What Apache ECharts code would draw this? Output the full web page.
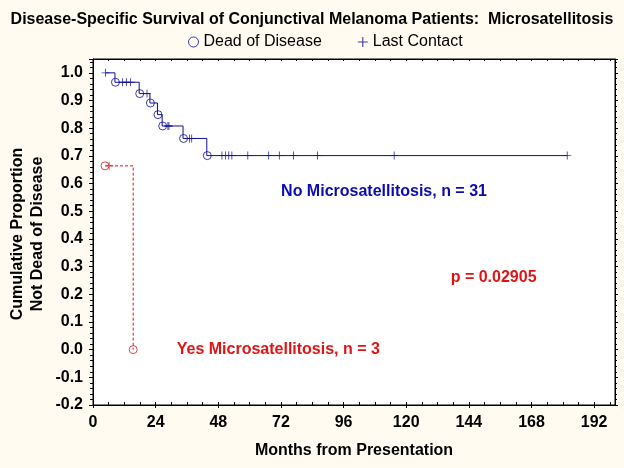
<!DOCTYPE html>
<html>
<head>
<meta charset="utf-8">
<script src="https://cdn.jsdelivr.net/npm/echarts@6/dist/echarts.min.js"></script>
<style>
html,body{margin:0;padding:0;background:#FFFBF0;}
#c{width:624px;height:468px;}
</style>
</head>
<body>
<div id="c"></div>
<script>
// ---- data ----
// No Microsatellitosis (n = 31): step curve points (month, proportion)
const noMsTimes  = [4.8, 8.4, 17.7, 21.8, 24.7, 26.5, 34.5, 43.6, 181.7];
const noMsSurv   = [1.0, 0.966, 0.925, 0.891, 0.849, 0.808, 0.763, 0.701, 0.701];
// deaths (circles)
const noMsDeathT = [8.6, 17.9, 22.0, 24.9, 26.7, 34.7, 43.8];
const noMsDeathS = [0.966, 0.925, 0.891, 0.849, 0.808, 0.763, 0.701];
// last contacts (plus)
const noMsCensT  = [4.8, 11.3, 12.8, 14.4, 20.7, 28.7, 29.1, 37.0, 37.8, 49.4, 50.8, 52.0, 53.2, 59.3, 67.3, 71.4, 76.8, 86.0, 115.4, 181.7];
const noMsCensS  = [1.0, 0.966, 0.966, 0.966, 0.925, 0.808, 0.808, 0.763, 0.763, 0.701, 0.701, 0.701, 0.701, 0.701, 0.701, 0.701, 0.701, 0.701, 0.701, 0.701];
// Yes Microsatellitosis (n = 3)
const yesMsTimes  = [4.6, 15.4];
const yesMsSurv   = [0.664, 0.0];
const yesMsDeathT = [4.6, 15.4];
const yesMsDeathS = [0.664, 0.0];
const yesMsCensT  = [6.2];
const yesMsCensS  = [0.664];

const xTicks = [0, 24, 48, 72, 96, 120, 144, 168, 192];
const yTicks = [-0.2, -0.1, 0.0, 0.1, 0.2, 0.3, 0.4, 0.5, 0.6, 0.7, 0.8, 0.9, 1.0];

const titleText = 'Disease-Specific Survival of Conjunctival Melanoma Patients:  Microsatellitosis';
const xName = 'Months from Presentation';
const yName = 'Cumulative Proportion\nNot Dead of Disease';
const noLabel = 'No Microsatellitosis, n = 31';
const yesLabel = 'Yes Microsatellitosis, n = 3';
const pLabel = 'p = 0.02905';

// ---- chart ----
const zip = (a, b) => a.map((v, i) => [v, b[i]]);
const BLUE = '#0E0E98';
const RED = '#D21C1C';
const FONT = 'Liberation Sans, Arial, sans-serif';
const PLUS = 'path://M0,4.45h10v1.1h-10z M4.45,0h1.1v10h-1.1z';
const CLEAR = 'rgba(0,0,0,0)';

const chart = echarts.init(document.getElementById('c'), null, {renderer: 'canvas'});

const fmtX = v => (xTicks.indexOf(Math.round(v)) >= 0 && Math.abs(v - Math.round(v)) < 1e-6) ? String(Math.round(v)) : '';
const fmtY = v => {
  const r = Math.round(v * 10) / 10;
  return Math.abs(v - r) < 1e-6 && yTicks.some(t => Math.abs(t - r) < 1e-6) ? r.toFixed(1) : '';
};
const bold16 = {fontFamily: FONT, fontSize: 16, fontWeight: 'bold', color: '#000'};

const option = {
  backgroundColor: '#FFFBF0',
  animation: false,
  textStyle: {fontFamily: FONT},
  title: {
    text: titleText, left: 'center', top: 7,
    textStyle: bold16
  },
  legend: {
    top: 29, left: 183, itemGap: 36, itemWidth: 10, itemHeight: 10,
    textStyle: {fontFamily: FONT, fontSize: 16, color: '#000'},
    data: [
      {name: 'Dead of Disease', icon: 'circle', itemStyle: {color: CLEAR, borderColor: BLUE, borderWidth: 1}},
      {name: 'Last Contact', icon: PLUS, itemStyle: {color: BLUE, borderWidth: 0}}
    ]
  },
  grid: {left: 93, right: 9, top: 59, bottom: 63, show: true, backgroundColor: '#FFFFFF', borderColor: '#000', borderWidth: 1},
  xAxis: [{
    type: 'value', min: 0, max: 200, interval: 24, position: 'bottom',
    name: xName, nameLocation: 'middle', nameGap: 38,
    nameTextStyle: bold16,
    axisLine: {show: true, onZero: false, lineStyle: {color: '#000', width: 1}},
    axisTick: {show: true, inside: false, length: 3, lineStyle: {color: '#000'}},
    axisLabel: Object.assign({formatter: fmtX, margin: 10, showMaxLabel: false}, bold16),
    splitLine: {show: false}
  }, {
    type: 'value', min: 0, max: 200, interval: 6, position: 'bottom',
    axisLine: {show: false, onZero: false},
    axisTick: {show: true, inside: true, length: 3, lineStyle: {color: '#000'}},
    axisLabel: {show: false}, splitLine: {show: false}
  }, {
    type: 'value', min: 0, max: 200, interval: 6, position: 'top',
    axisLine: {show: true, onZero: false, lineStyle: {color: '#000'}},
    axisTick: {show: true, inside: true, length: 2, lineStyle: {color: '#000'}},
    axisLabel: {show: false}, splitLine: {show: false}
  }],
  yAxis: [{
    type: 'value', min: -0.2, max: 1.05, interval: 0.1, position: 'left',
    axisLine: {show: true, onZero: false, lineStyle: {color: '#000', width: 1}},
    axisTick: {show: true, inside: false, length: 4, lineStyle: {color: '#000'}},
    minorTick: {show: true, splitNumber: 5, length: 3, lineStyle: {color: '#000'}},
    axisLabel: Object.assign({formatter: fmtY, margin: 10, showMaxLabel: false}, bold16),
    splitLine: {show: false}
  }, {
    type: 'value', min: -0.2, max: 1.05, interval: 0.1, position: 'right',
    axisLine: {show: true, onZero: false, lineStyle: {color: '#000', width: 1}},
    axisTick: {show: true, inside: false, length: 3, lineStyle: {color: '#000'}},
    minorTick: {show: true, splitNumber: 5, length: 2, lineStyle: {color: '#000'}},
    axisLabel: {show: false}, splitLine: {show: false}
  }],
  graphic: [
    {type: 'text', left: 8, top: 'middle', rotation: Math.PI / 2,
     style: {text: yName, fontFamily: FONT, fontSize: 16, fontWeight: 'bold', fill: '#000', textAlign: 'center', lineHeight: 20}}
  ],
  series: [
    {type: 'line', name: 'No', step: 'end', xAxisIndex: 0, yAxisIndex: 0,
     data: zip(noMsTimes, noMsSurv), showSymbol: false, symbol: 'none',
     lineStyle: {color: BLUE, width: 1}, z: 2,
     markPoint: {
       symbol: 'circle', symbolSize: 0, silent: true,
       data: [
         {coord: [111.5, 0.57], value: noLabel, label: {show: true, formatter: noLabel, color: '#0B0BB4', fontFamily: FONT, fontSize: 16, fontWeight: 'bold'}},
         {coord: [153.5, 0.26], value: pLabel, label: {show: true, formatter: pLabel, color: '#E01414', fontFamily: FONT, fontSize: 16, fontWeight: 'bold'}},
         {coord: [71, 0.0], value: yesLabel, label: {show: true, formatter: yesLabel, color: '#E01414', fontFamily: FONT, fontSize: 16, fontWeight: 'bold'}}
       ]
     }},
    {type: 'line', name: 'Yes', step: 'end', xAxisIndex: 0, yAxisIndex: 0,
     data: zip(yesMsTimes, yesMsSurv), showSymbol: false, symbol: 'none',
     lineStyle: {color: RED, width: 1, type: [3, 2]}, z: 2},
    {type: 'scatter', name: 'Dead of Disease', xAxisIndex: 0, yAxisIndex: 0,
     data: zip(noMsDeathT, noMsDeathS), symbol: 'circle', symbolSize: 8,
     itemStyle: {color: CLEAR, borderColor: BLUE, borderWidth: 1}, z: 3},
    {type: 'scatter', name: 'Last Contact', xAxisIndex: 0, yAxisIndex: 0,
     data: zip(noMsCensT, noMsCensS), symbol: PLUS, symbolSize: 8,
     itemStyle: {color: BLUE}, z: 3},
    {type: 'scatter', name: 'Dead of Disease', xAxisIndex: 0, yAxisIndex: 0,
     data: zip(yesMsDeathT, yesMsDeathS), symbol: 'circle', symbolSize: 8,
     itemStyle: {color: CLEAR, borderColor: RED, borderWidth: 1}, z: 3},
    {type: 'scatter', name: 'Last Contact', xAxisIndex: 0, yAxisIndex: 0,
     data: zip(yesMsCensT, yesMsCensS), symbol: PLUS, symbolSize: 8,
     itemStyle: {color: RED}, z: 3}
  ]
};
chart.setOption(option);
</script>
</body>
</html>
